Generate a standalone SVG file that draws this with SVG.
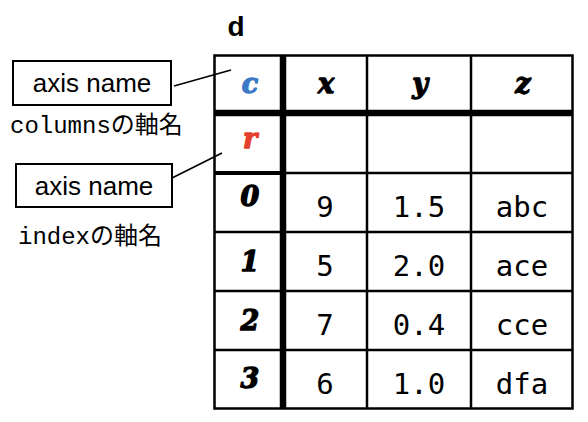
<svg xmlns="http://www.w3.org/2000/svg" width="588" height="422" viewBox="0 0 588 422">
<style>
.title{font-family:"Liberation Sans",Arial,sans-serif;font-weight:bold;font-size:28px;fill:#000}
.box{fill:#fff;stroke:#000;stroke-width:2}
.boxt{font-family:"Liberation Sans",Arial,sans-serif;font-size:26px;fill:#000;text-anchor:middle}
.note{font-family:"Liberation Mono","Noto Sans CJK JP",monospace;font-size:24px;fill:#000}
.lead{stroke:#000;stroke-width:1.6;fill:none}
.grid{stroke:#000;stroke-width:2.5;fill:none}
.thick{stroke:#000;stroke-width:6.5;fill:none}
.hdr{font-family:"DejaVu Serif",serif;font-weight:900;font-style:italic;font-size:27px;text-anchor:middle;fill:#000;stroke:#000;stroke-width:1.3;stroke-linejoin:round}
.val{font-family:"DejaVu Sans Mono",monospace;font-size:29px;text-anchor:middle;fill:#000}
</style>
<rect width="588" height="422" fill="#fff"/>
<text class="title" x="236" y="36" text-anchor="middle">d</text>
<g id="table">
  <rect x="214.5" y="55.5" width="358" height="353" class="grid" stroke-width="3"/>
  <line class="grid" x1="367" y1="55" x2="367" y2="409"/>
  <line class="grid" x1="471" y1="55" x2="471" y2="409"/>
  <line class="grid" x1="214" y1="173" x2="573" y2="173"/>
  <line class="grid" x1="214" y1="232" x2="573" y2="232"/>
  <line class="grid" x1="214" y1="291" x2="573" y2="291"/>
  <line class="grid" x1="214" y1="350" x2="573" y2="350"/>
  <line stroke="#000" stroke-width="4" x1="214" y1="173" x2="283" y2="173"/>
  <line class="thick" x1="283" y1="55" x2="283" y2="409"/>
  <line class="thick" x1="214" y1="113" x2="573" y2="113"/>
  <text class="hdr" x="250" y="93" style="fill:#3b78c6;stroke:#3b78c6">c</text>
  <text class="hdr" x="326" y="93">x</text>
  <text class="hdr" x="420" y="93">y</text>
  <text class="hdr" x="523" y="93">z</text>
  <text class="hdr" x="250" y="148" style="fill:#e5402b;stroke:#e5402b">r</text>
  <text class="hdr" x="250" y="206">0</text>
  <text class="hdr" x="250" y="271">1</text>
  <text class="hdr" x="250" y="330">2</text>
  <text class="hdr" x="250" y="388">3</text>
  <text class="val" x="325" y="217">9</text>
  <text class="val" x="419" y="217">1.5</text>
  <text class="val" x="522" y="217">abc</text>
  <text class="val" x="325" y="276">5</text>
  <text class="val" x="419" y="276">2.0</text>
  <text class="val" x="522" y="276">ace</text>
  <text class="val" x="325" y="335">7</text>
  <text class="val" x="419" y="335">0.4</text>
  <text class="val" x="522" y="335">cce</text>
  <text class="val" x="325" y="394">6</text>
  <text class="val" x="419" y="394">1.0</text>
  <text class="val" x="522" y="394">dfa</text>
</g>
<g id="columns-axis">
  <rect class="box" x="13" y="61" width="158" height="44"/>
  <text class="boxt" x="92" y="92">axis name</text>
  <text class="note" x="10" y="133">columnsの軸名</text>
</g>
<g id="index-axis">
  <rect class="box" x="16" y="164" width="156" height="43"/>
  <text class="boxt" x="94" y="195">axis name</text>
  <text class="note" x="18" y="244">indexの軸名</text>
</g>
<g id="connectors">
  <line class="lead" x1="174" y1="86" x2="231" y2="70"/>
  <line class="lead" x1="172" y1="178" x2="222" y2="153"/>
</g>
</svg>
